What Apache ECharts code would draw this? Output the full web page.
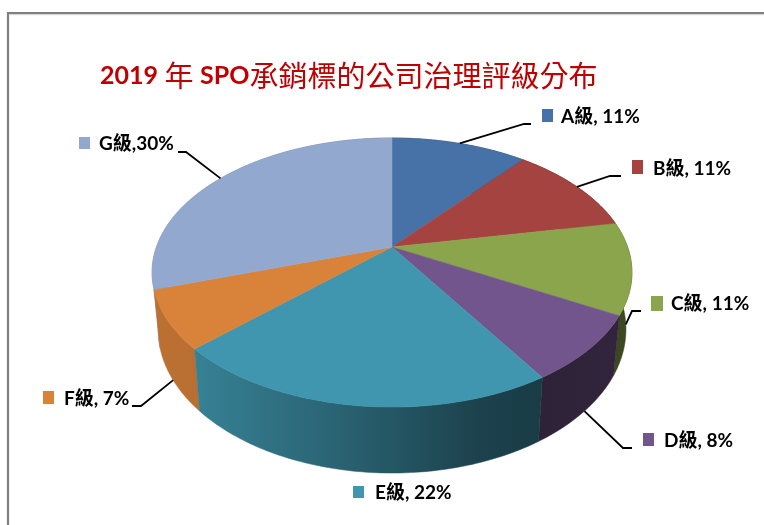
<!DOCTYPE html>
<html>
<head>
<meta charset="utf-8">
<style>html,body{margin:0;padding:0;background:#fff}#c{width:764px;height:525px}</style>
<script src="https://cdn.jsdelivr.net/npm/echarts@6/dist/echarts.min.js"></script>
</head>
<body>
<div id="c"></div>
<script>
var categories = ['A級', 'B級', 'C級', 'D級', 'E級', 'F級', 'G級'];
var values = [11, 11, 11, 8, 22, 7, 30];
var labelTexts = ['A級, 11%', 'B級, 11%', 'C級, 11%', 'D級, 8%', 'E級, 22%', 'F級, 7%', 'G級,30%'];
var colors = ['#4672A8', '#A54341', '#8AA54B', '#72558C', '#3F96AE', '#D8823A', '#92A8CF'];
var titleParts = ['2019', ' 年 ', 'SPO', '承銷標的公司治理評級分布'];

// projected (perspective) pie geometry
var PIE = { x0: 392, y0: 247, a: 235.6, b: 129.7, k: 0.1896, botX: 0.975, botY: 1.068, frontY: 407, frontBot: 473 };
// label layout: sx,sy = swatch; tx,ty = text; elbow = leader bend points; rim = which rim the leader starts on
var layout = [
  { sx: 542, sy: 109, sw: 11, sh: 13, tx: 561, ty: 117, rim: 'top', elbow: [[524, 124], [531, 124]] },
  { sx: 632, sy: 160, sw: 11, sh: 14, tx: 653, ty: 169, rim: 'top', elbow: [[610, 176], [621, 176]] },
  { sx: 651, sy: 296, sw: 12, sh: 15, tx: 671, ty: 304, rim: 'bot', elbow: [[632, 311], [641, 311]] },
  { sx: 643, sy: 433, sw: 11, sh: 13, tx: 664, ty: 441, rim: 'bot', elbow: [[623, 448], [632, 448]] },
  { sx: 353, sy: 486, sw: 11, sh: 12, tx: 375, ty: 493, rim: null, elbow: [] },
  { sx: 43, sy: 391, sw: 11, sh: 13, tx: 64, ty: 399, rim: 'bot', elbow: [[141, 406], [132, 406]] },
  { sx: 79, sy: 137, sw: 11, sh: 12, tx: 99, ty: 144, rim: 'top', elbow: [[186, 152], [178, 152]] }
];
// wall lighting across the pie width
var shade = [[0, 0.87], [0.1, 0.85], [0.36, 0.68], [0.68, 0.44], [0.82, 0.40], [1, 0.44]];

var total = values.reduce(function (s, v) { return s + v; }, 0);
function cum(i) { var s = 0; for (var j = 0; j < i; j++) s += values[j]; return s / total; }
function topPt(f) {
  var t = f * 2 * Math.PI, u = Math.sin(t), v = -Math.cos(t), d = 1 - PIE.k * v;
  return [PIE.x0 + PIE.a * u / d, PIE.y0 + PIE.b * v / d];
}
function botPt(f) {
  var p = topPt(f);
  return [PIE.x0 + (p[0] - PIE.x0) * PIE.botX, PIE.frontBot + PIE.botY * (p[1] - PIE.frontY)];
}
function arc(fn, f0, f1) {
  var n = Math.max(8, Math.ceil((f1 - f0) * 360)), out = [];
  for (var i = 0; i <= n; i++) out.push(fn(f0 + (f1 - f0) * i / n));
  return out;
}
function scaleColor(hex, m) {
  var c = echarts.color.parse(hex);
  return 'rgb(' + Math.round(c[0] * m) + ',' + Math.round(c[1] * m) + ',' + Math.round(c[2] * m) + ')';
}
var seriesData = values.map(function (v, i) { return { name: categories[i], value: [v] }; });

function renderWall(params, api) {
  var i = params.dataIndex, f0 = cum(i), f1 = f0 + api.value(0) / total;
  var pts = arc(topPt, f0, f1).concat(arc(botPt, f0, f1).reverse());
  var fm = (f0 + f1) / 2;
  var fill = new echarts.graphic.LinearGradient(152, 0, 632, 0, shade.map(function (s) {
    return { offset: s[0], color: scaleColor(colors[i], s[1]) };
  }), true);
  return {
    type: 'polygon', z2: Math.round(-Math.cos(fm * 2 * Math.PI) * 100) + 100, silent: true,
    shape: { points: pts }, style: { fill: fill, stroke: fill, lineWidth: 0.5 }
  };
}
function renderTop(params, api) {
  var i = params.dataIndex, f0 = cum(i), f1 = f0 + api.value(0) / total;
  var pts = [[PIE.x0, PIE.y0]].concat(arc(topPt, f0, f1));
  return {
    type: 'polygon', silent: true, shape: { points: pts },
    style: { fill: colors[i], stroke: colors[i], lineWidth: 0.5 }
  };
}
function renderLabel(params, api) {
  var i = params.dataIndex, L = layout[i], f0 = cum(i), f1 = f0 + api.value(0) / total, kids = [];
  if (L.rim) {
    var start = (L.rim === 'top' ? topPt : botPt)((f0 + f1) / 2);
    kids.push({ type: 'polyline', silent: true, shape: { points: [start].concat(L.elbow) },
      style: { fill: null, stroke: '#000', lineWidth: 1.8 } });
  }
  kids.push({ type: 'rect', silent: true, shape: { x: L.sx, y: L.sy, width: L.sw, height: L.sh },
    style: { fill: colors[i] } });
  kids.push({ type: 'text', silent: true, x: L.tx, y: L.ty,
    style: { text: labelTexts[i], fill: '#000', font: 'bold 19px Lato, "Noto Sans CJK TC", sans-serif',
      textAlign: 'left', textVerticalAlign: 'middle' } });
  return { type: 'group', children: kids };
}

var chart = echarts.init(document.getElementById('c'), null, { renderer: 'canvas', width: 764, height: 525 });
chart.setOption({
  animation: false,
  backgroundColor: '#fff',
  title: {
    left: 95, top: 56,
    text: '{a|' + titleParts[0] + '}{b|' + titleParts[1] + '}{a|' + titleParts[2] + '}{b|' + titleParts[3] + '}',
    textStyle: {
      rich: {
        a: { fontFamily: 'Lato', fontWeight: 'bold', fontSize: 25, color: '#C00000' },
        b: { fontFamily: '"Noto Sans CJK TC"', fontWeight: 'normal', fontSize: 29, color: '#C00000' }
      }
    }
  },
  graphic: [
    { type: 'polyline', silent: true, shape: { points: [[8, 525], [8, 13], [764, 13]] }, style: { fill: null, stroke: '#808080', lineWidth: 2.2 } },
    { type: 'line', silent: true, shape: { x1: 9, y1: 14.7, x2: 764, y2: 14.7 }, style: { stroke: '#d0d0d0', lineWidth: 1 } }
  ],
  series: [
    { type: 'custom', coordinateSystem: 'none', z: 2, clip: false, renderItem: renderWall, data: seriesData },
    { type: 'custom', coordinateSystem: 'none', z: 3, clip: false, renderItem: renderTop, data: seriesData },
    { type: 'custom', coordinateSystem: 'none', z: 4, clip: false, renderItem: renderLabel, data: seriesData }
  ]
});
</script>
</body>
</html>
